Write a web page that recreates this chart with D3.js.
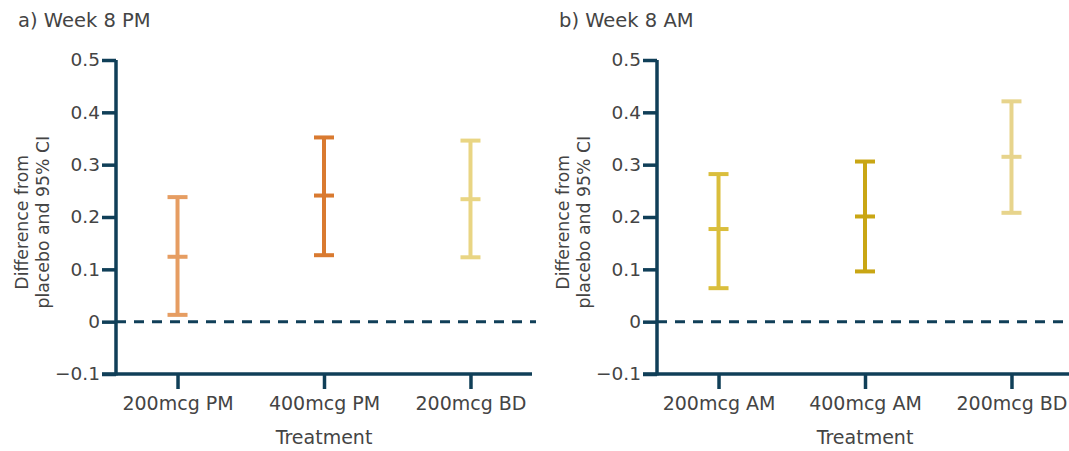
<!DOCTYPE html>
<html>
<head>
<meta charset="utf-8">
<script src="https://cdn.jsdelivr.net/npm/d3@7"></script>
<style>
  body { margin: 0; background: #fff; }
  svg text { font-family: "DejaVu Sans", Arial, sans-serif; }
</style>
</head>
<body>
<div id="chart"></div>
<script>
  // panel a) Week 8 PM
  const catsPM = ["200mcg PM", "400mcg PM", "200mcg BD"];
  const meanPM = [0.124, 0.241, 0.234];
  const lowPM = [0.013, 0.127, 0.123];
  const highPM = [0.238, 0.352, 0.346];
  const colPM = ["#E69D62", "#D97A30", "#E9D583"];

  // panel b) Week 8 AM
  const catsAM = ["200mcg AM", "400mcg AM", "200mcg BD"];
  const meanAM = [0.177, 0.201, 0.315];
  const lowAM = [0.064, 0.096, 0.208];
  const highAM = [0.282, 0.306, 0.421];
  const colAM = ["#DABE3C", "#C9A614", "#E7D48C"];

  const yTicks = [-0.1, 0, 0.1, 0.2, 0.3, 0.4, 0.5];

  const width = 1069, height = 451;
  const axisCol = "#103F58", textCol = "#444";
  const fam = "DejaVu Sans, Arial, sans-serif";

  const svg = d3.select("#chart").append("svg")
    .attr("width", width)
    .attr("height", height);

  const yScale = d3.scaleLinear().domain([-0.1, 0.5]).range([374, 60]);

  function panel(x0, title, cats, mean, low, high, cols) {
    const g = svg.append("g");
    const xScale = d3.scalePoint()
      .domain(cats)
      .range([x0, x0 + 416])
      .padding(0.42);

    g.append("text")
      .attr("x", x0 - 98)
      .attr("y", 27)
      .attr("font-size", 19.5)
      .attr("fill", textCol)
      .text(title);

    // zero reference line
    g.append("line")
      .attr("x1", x0).attr("x2", x0 + 420)
      .attr("y1", yScale(0)).attr("y2", yScale(0))
      .attr("stroke", axisCol)
      .attr("stroke-width", 3)
      .attr("stroke-dasharray", "10,8");

    const rows = cats.map((c, i) => ({ c, m: mean[i], lo: low[i], hi: high[i], col: cols[i] }));
    const bars = g.selectAll(".err").data(rows).enter().append("g").attr("class", "err");
    bars.append("line")
      .attr("x1", d => xScale(d.c)).attr("x2", d => xScale(d.c))
      .attr("y1", d => yScale(d.lo)).attr("y2", d => yScale(d.hi))
      .attr("stroke", d => d.col).attr("stroke-width", 4);
    ["lo", "m", "hi"].forEach(k => {
      bars.append("line")
        .attr("x1", d => xScale(d.c) - 10).attr("x2", d => xScale(d.c) + 10)
        .attr("y1", d => yScale(d[k])).attr("y2", d => yScale(d[k]))
        .attr("stroke", d => d.col).attr("stroke-width", 4);
    });

    const yAxis = g.append("g")
      .attr("transform", `translate(${x0},0)`)
      .call(d3.axisLeft(yScale).tickValues(yTicks).tickSize(14).tickPadding(2)
        .tickFormat(d => d === 0 ? "0" : d3.format(".1f")(d).replace("-", "\u2212")));
    yAxis.select(".domain").attr("stroke", axisCol).attr("stroke-width", 3.5)
      .attr("d", `M0,${yScale(0.5)}V${yScale(-0.1) + 1.5}`);
    yAxis.selectAll(".tick line").attr("stroke", axisCol).attr("stroke-width", 3.5);
    yAxis.selectAll(".tick text").attr("fill", textCol).attr("font-size", 18.5)
      .style("font-family", fam);

    const xAxis = g.append("g")
      .attr("transform", `translate(0,${yScale(-0.1)})`)
      .call(d3.axisBottom(xScale).tickSize(15).tickPadding(8));
    xAxis.select(".domain").attr("stroke", axisCol).attr("stroke-width", 3.5)
      .attr("d", `M${x0 - 14},0H${x0 + 416}`);
    xAxis.selectAll(".tick line").attr("stroke", axisCol).attr("stroke-width", 3.5);
    xAxis.selectAll(".tick text").attr("fill", textCol).attr("font-size", 19)
      .style("font-family", fam);

    g.append("text")
      .attr("x", xScale(cats[1]))
      .attr("y", 444)
      .attr("text-anchor", "middle")
      .attr("font-size", 19)
      .attr("fill", textCol)
      .text("Treatment");

    const yt = g.append("text")
      .attr("transform", `translate(${x0 - 88},${yScale(0.19)}) rotate(-90)`)
      .attr("text-anchor", "middle")
      .attr("font-size", 17.3)
      .attr("fill", textCol);
    yt.append("tspan").attr("x", 0).attr("dy", 0).text("Difference from");
    yt.append("tspan").attr("x", 0).attr("dy", 21).text("placebo and 95% CI");
  }

  panel(116, "a) Week 8 PM", catsPM, meanPM, lowPM, highPM, colPM);
  panel(657, "b) Week 8 AM", catsAM, meanAM, lowAM, highAM, colAM);
</script>
</body>
</html>
